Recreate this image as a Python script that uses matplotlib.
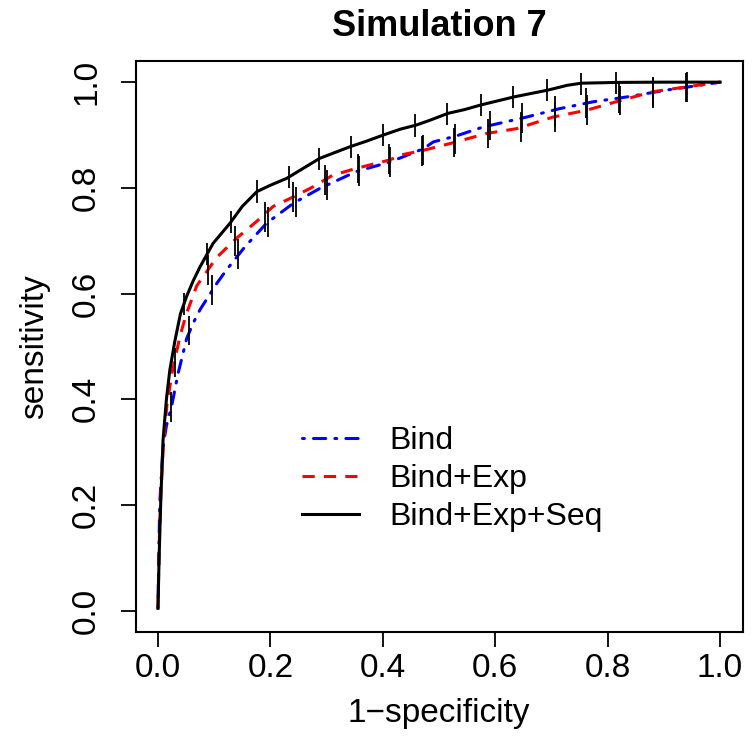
import matplotlib
matplotlib.use("Agg")
import matplotlib.pyplot as plt
import numpy as np

plt.rcParams['font.family'] = ['Liberation Sans', 'DejaVu Sans']

# ROC curves (1-specificity, sensitivity)
bind_fpr = [0, 0.003, 0.009, 0.015, 0.024, 0.036, 0.051, 0.063, 0.075, 0.087, 0.105, 0.122,
            0.155, 0.193, 0.241, 0.288, 0.353, 0.413, 0.472, 0.49, 0.53, 0.578, 0.656, 0.715,
            0.775, 0.834, 0.905, 0.976, 1.0]
bind_tpr = [0.005, 0.2, 0.31, 0.35, 0.386, 0.45, 0.515, 0.545, 0.57, 0.59, 0.62, 0.645,
            0.689, 0.733, 0.771, 0.799, 0.831, 0.849, 0.874, 0.887, 0.898, 0.915, 0.934, 0.95,
            0.963, 0.972, 0.985, 0.996, 1.0]

exp_fpr = [0, 0.002, 0.005, 0.010, 0.016, 0.025, 0.039, 0.05, 0.069, 0.089, 0.104, 0.14,
           0.176, 0.205, 0.241, 0.276, 0.311, 0.353, 0.413, 0.431, 0.472, 0.52, 0.585, 0.638,
           0.703, 0.763, 0.822, 0.881, 0.94, 1.0]
exp_tpr = [0.005, 0.12, 0.22, 0.32, 0.39, 0.45, 0.519, 0.56, 0.615, 0.645, 0.668, 0.705,
           0.737, 0.765, 0.783, 0.802, 0.824, 0.837, 0.853, 0.862, 0.871, 0.884, 0.903, 0.912,
           0.934, 0.947, 0.965, 0.982, 0.991, 1.0]

seq_fpr = [0, 0.002, 0.005, 0.009, 0.015, 0.021, 0.030, 0.040, 0.051, 0.063, 0.075, 0.098,
           0.128, 0.150, 0.176, 0.200, 0.229, 0.260, 0.288, 0.315, 0.342, 0.370, 0.401, 0.431,
           0.460, 0.484, 0.516, 0.545, 0.575, 0.633, 0.694, 0.728, 0.753, 0.817, 0.9, 1.0]
seq_tpr = [0.005, 0.10, 0.21, 0.323, 0.40, 0.455, 0.51, 0.562, 0.595, 0.625, 0.651, 0.695,
           0.733, 0.765, 0.793, 0.805, 0.818, 0.838, 0.856, 0.867, 0.878, 0.888, 0.900, 0.911,
           0.919, 0.928, 0.941, 0.948, 0.957, 0.972, 0.985, 0.994, 0.998, 0.9995, 1.0, 1.0]

# error bar positions (std error) along each curve
bind_bar_x = [0.024, 0.056, 0.097, 0.143, 0.195, 0.245, 0.300, 0.357, 0.413, 0.471, 0.529,
              0.590, 0.648, 0.706, 0.762, 0.820, 0.880, 0.940]
bind_bar_y = [0.386, 0.53, 0.607, 0.675, 0.735, 0.773, 0.805, 0.832, 0.849, 0.872, 0.893,
              0.918, 0.932, 0.945, 0.960, 0.970, 0.980, 0.990]
exp_bar_x = [0.030, 0.089, 0.137, 0.190, 0.240, 0.297, 0.355, 0.411, 0.469, 0.527, 0.588,
             0.646, 0.706, 0.763, 0.822, 0.881, 0.942]
exp_bar_y = [0.47, 0.645, 0.700, 0.745, 0.783, 0.815, 0.837, 0.855, 0.870, 0.886, 0.903,
             0.915, 0.933, 0.947, 0.965, 0.982, 0.991]
seq_bar_x = [0.046, 0.087, 0.130, 0.176, 0.233, 0.287, 0.343, 0.401, 0.458, 0.515, 0.575,
             0.632, 0.693, 0.753, 0.815]
seq_bar_y = [0.58, 0.675, 0.735, 0.793, 0.820, 0.855, 0.878, 0.900, 0.918, 0.940, 0.957,
             0.972, 0.985, 0.997, 0.999]
bind_err = 0.028
exp_err = 0.028
seq_err = 0.021

fig = plt.figure(figsize=(7.52, 7.55), dpi=100)
ax = fig.add_axes([135.5 / 752, 1 - 632 / 755, 607 / 752, 571 / 755])

lw = 2.2
ax.plot(bind_fpr, bind_tpr, color='blue', lw=lw, dashes=(0.6, 3, 4, 3),
        dash_capstyle='round', label='Bind')
ax.plot(exp_fpr, exp_tpr, color='red', lw=lw, dashes=(4, 3), dash_capstyle='butt',
        label='Bind+Exp')
ax.plot(seq_fpr, seq_tpr, color='black', lw=lw, label='Bind+Exp+Seq')

for bx, by, e in [(bind_bar_x, bind_bar_y, bind_err), (exp_bar_x, exp_bar_y, exp_err),
                  (seq_bar_x, seq_bar_y, seq_err)]:
    by = np.array(by)
    ax.vlines(bx, by - e, by + e, color='black', lw=1.3)

ax.set_xlim(-0.04, 1.04)
ax.set_ylim(-0.04, 1.04)
ticks = [0.0, 0.2, 0.4, 0.6, 0.8, 1.0]
ax.set_xticks(ticks)
ax.set_yticks(ticks)
ax.set_xticklabels(['%.1f' % t for t in ticks])
ax.set_yticklabels(['%.1f' % t for t in ticks], rotation=90, va='center')
ax.tick_params(length=11, width=1.3, labelsize=24)
ax.tick_params(axis='x', pad=4)
ax.tick_params(axis='y', pad=13)
for s in ax.spines.values():
    s.set_linewidth(1.5)

ax.set_xlabel('1\u2212specificity', fontsize=24, labelpad=10)
ax.set_ylabel('sensitivity', fontsize=24, labelpad=15)
ax.set_title('Simulation 7', fontsize=26, fontweight='bold', pad=18)

ax.legend(loc='upper left', bbox_to_anchor=(286 / 752, 1 - 410 / 755),
          bbox_transform=fig.transFigure, frameon=False, fontsize=23,
          borderpad=0, handlelength=1.8, handletextpad=0.95, labelspacing=0.25)

fig.savefig('out.png', dpi=100)
